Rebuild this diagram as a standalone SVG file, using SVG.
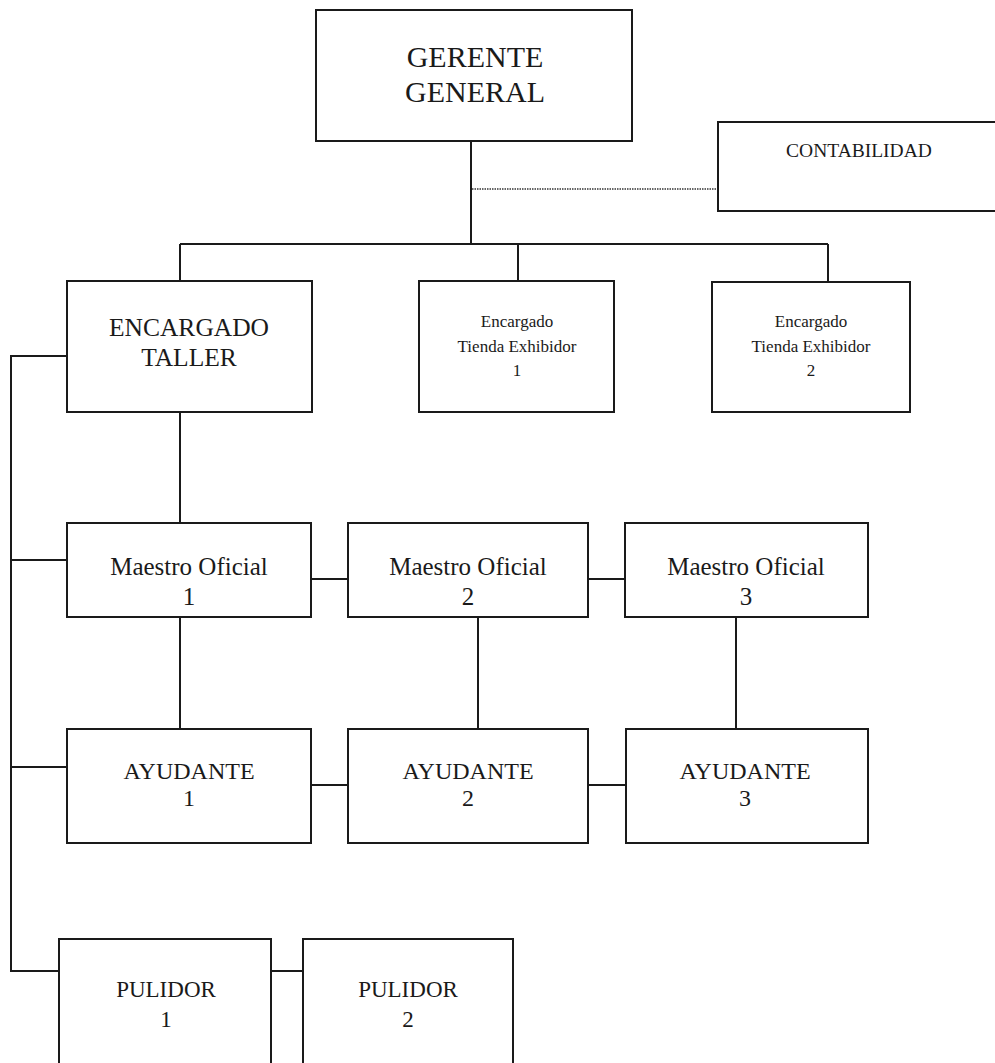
<svg xmlns="http://www.w3.org/2000/svg" width="995" height="1063" viewBox="0 0 995 1063">
<style>
.box{fill:#fff;stroke:#1a1a1a;stroke-width:2}
.ln{fill:none;stroke:#1a1a1a;stroke-width:2}
.dot{fill:none;stroke:#333;stroke-width:1.5;stroke-dasharray:1.5 1}
text{fill:#1a1a1a;text-anchor:middle}
</style>
<rect width="995" height="1063" fill="#fff"/>
<g id="connectors">
<path class="ln" d="M471 141V244M180 244H828M180 244V281M518 244V281M828 244V282"/>
<path class="dot" d="M472 189H718"/>
<path class="ln" d="M67 356H11V971H59"/>
<path class="ln" d="M180 412V523M11 560H67M11 767H67"/>
<path class="ln" d="M311 579H348M588 579H625"/>
<path class="ln" d="M180 617V729M478 617V729M736 617V729"/>
<path class="ln" d="M311 785H348M588 785H626"/>
<path class="ln" d="M271 971H303"/>
</g>
<g font-family="'Liberation Serif', 'Times New Roman', 'DejaVu Serif', serif">
<g id="gerente"><rect class="box" x="316" y="10" width="316" height="131"/><text x="475" y="67" font-size="30">GERENTE</text><text x="475" y="102" font-size="30">GENERAL</text></g>
<g id="contabilidad"><rect class="box" x="718" y="122" width="290" height="89"/><text x="859" y="157" font-size="19.5">CONTABILIDAD</text></g>
<g id="encargado-taller"><rect class="box" x="67" y="281" width="245" height="131"/><text x="189" y="336" font-size="25.5">ENCARGADO</text><text x="189" y="366" font-size="25.5">TALLER</text></g>
<g id="tienda1"><rect class="box" x="419" y="281" width="195" height="131"/><text x="517" y="327" font-size="17">Encargado</text><text x="517" y="352" font-size="17">Tienda Exhibidor</text><text x="517" y="376" font-size="17">1</text></g>
<g id="tienda2"><rect class="box" x="712" y="282" width="198" height="130"/><text x="811" y="327" font-size="17">Encargado</text><text x="811" y="352" font-size="17">Tienda Exhibidor</text><text x="811" y="376" font-size="17">2</text></g>
<g id="maestro1"><rect class="box" x="67" y="523" width="244" height="94"/><text x="189" y="575" font-size="25">Maestro Oficial</text><text x="189" y="605" font-size="25">1</text></g>
<g id="maestro2"><rect class="box" x="348" y="523" width="240" height="94"/><text x="468" y="575" font-size="25">Maestro Oficial</text><text x="468" y="605" font-size="25">2</text></g>
<g id="maestro3"><rect class="box" x="625" y="523" width="243" height="94"/><text x="746" y="575" font-size="25">Maestro Oficial</text><text x="746" y="605" font-size="25">3</text></g>
<g id="ayudante1"><rect class="box" x="67" y="729" width="244" height="114"/><text x="189" y="779" font-size="24">AYUDANTE</text><text x="189" y="806" font-size="24">1</text></g>
<g id="ayudante2"><rect class="box" x="348" y="729" width="240" height="114"/><text x="468" y="779" font-size="24">AYUDANTE</text><text x="468" y="806" font-size="24">2</text></g>
<g id="ayudante3"><rect class="box" x="626" y="729" width="242" height="114"/><text x="745" y="779" font-size="24">AYUDANTE</text><text x="745" y="806" font-size="24">3</text></g>
<g id="pulidor1"><rect class="box" x="59" y="939" width="212" height="140"/><text x="166" y="997" font-size="23">PULIDOR</text><text x="166" y="1027" font-size="23">1</text></g>
<g id="pulidor2"><rect class="box" x="303" y="939" width="210" height="140"/><text x="408" y="997" font-size="23">PULIDOR</text><text x="408" y="1027" font-size="23">2</text></g>
</g>
</svg>
